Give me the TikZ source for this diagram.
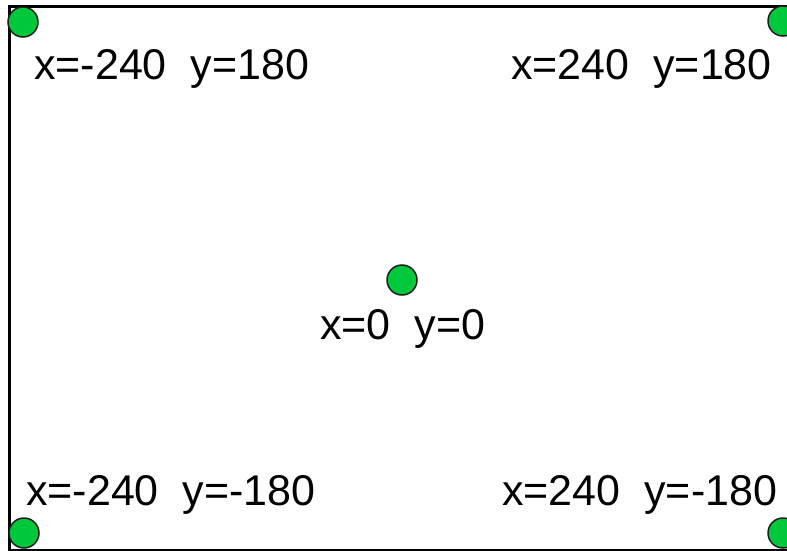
\documentclass[tikz,border=0pt]{standalone}
\usepackage{fontspec}
\setmainfont{Liberation Sans}
\usetikzlibrary{positioning}
\definecolor{dotGreen}{RGB}{0,200,60}
\definecolor{rimGray}{RGB}{30,30,30}

\tikzset{
  pt/.style={circle, draw=rimGray, line width=1.5pt, fill=dotGreen, minimum size=30pt, inner sep=0pt},
  coordlbl/.style={font=\fontsize{43}{50}\selectfont, anchor=base west, inner sep=0pt},
}

\begin{document}
\begin{tikzpicture}[x=1pt, y=-1pt]
        \useasboundingbox (0,0) rectangle (787,551);
        \clip (0,0) rectangle (787,551);
        % screen frame
        \draw[line width=3pt] (9.5,6.5) rectangle (791,550);
        % corner and centre points
        \node[pt] (ptTL) at (23,22) {};
        \node[pt] (ptTR) at (783,21) {};
        \node[pt] (ptBL) at (24,533) {};
        \node[pt] (ptBR) at (783,533) {};
        \node[pt] (ptC) at (402,280) {};
        % labels
        \node[coordlbl] (lblTL) at (34,80) {x=-240\ \ y=180};
        \node[coordlbl] (lblTR) at (511,80) {x=240\ \ y=180};
        \node[coordlbl] (lblC) at (320,339) {x=0\ \ y=0};
        \node[coordlbl] (lblBL) at (26,505) {x=-240\ \ y=-180};
        \node[coordlbl] (lblBR) at (502,505) {x=240\ \ y=-180};
      \end{tikzpicture}
\end{document}
